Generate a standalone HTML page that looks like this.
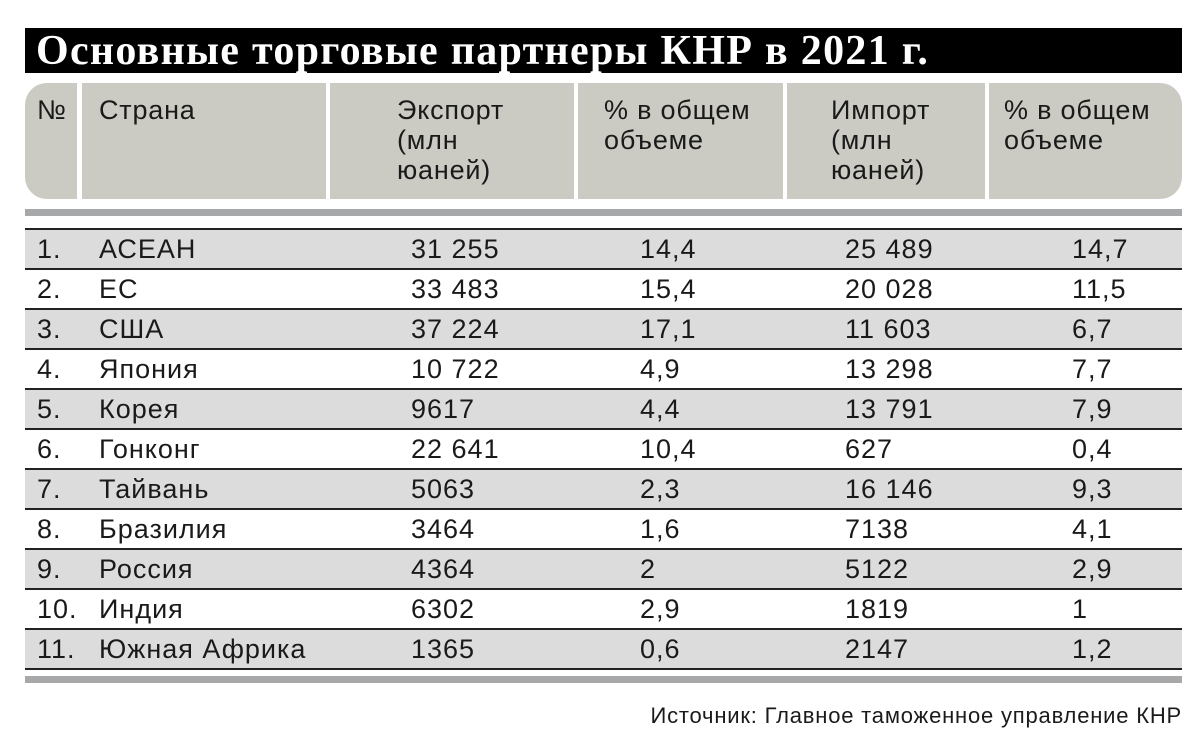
<!DOCTYPE html>
<html><head><meta charset="utf-8"><style>
body{margin:0;width:1200px;height:751px;background:#fff;position:relative;font-family:"Liberation Sans",sans-serif;color:#1a1a1a;overflow:hidden}
.t{position:absolute;left:25px;top:28px;width:1157px;height:45px;background:#000;color:#fff;font-family:"Liberation Serif",serif;font-weight:bold;font-size:42px;letter-spacing:1.3px;line-height:46px;padding-left:11px;box-sizing:border-box;white-space:nowrap}
.h{position:absolute;top:83px;height:116px;background:#cbcbc3;font-size:27px;letter-spacing:0.8px;line-height:30px;padding-top:12px;box-sizing:border-box}
.g{position:absolute;left:25px;width:1157px;height:7px;background:#a7a8aa}
.r{position:absolute;left:25px;width:1157px;height:40px;border-top:2px solid #222;box-sizing:border-box;font-size:27px;letter-spacing:1px;line-height:38px}
.r span{position:absolute;top:0}
.s{position:absolute;right:18px;top:703px;font-size:22px;letter-spacing:0.8px}
</style></head><body>
<div class="t">Основные торговые партнеры КНР в 2021 г.</div>
<div class="h" style="left:25px;width:52px;border-radius:22px 0 0 22px;padding-left:12px">№</div>
<div class="h" style="left:82px;width:244px;padding-left:17px">Страна</div>
<div class="h" style="left:330px;width:244px;padding-left:67px">Экспорт<br>(млн<br>юаней)</div>
<div class="h" style="left:578px;width:205px;padding-left:26px">% в общем<br>объеме</div>
<div class="h" style="left:787px;width:198px;padding-left:44px">Импорт<br>(млн<br>юаней)</div>
<div class="h" style="left:989px;width:193px;border-radius:0 22px 22px 0;padding-left:15px">% в общем<br>объеме</div>
<div class="g" style="top:209px"></div>
<div id="rows"></div>
<div class="r" style="top:668px;height:2px;border-top:2px solid #222"></div>
<div class="g" style="top:676px"></div>
<div class="s">Источник: Главное таможенное управление КНР</div>
<script>
var d=[["1.","АСЕАН","31 255","14,4","25 489","14,7"],["2.","ЕС","33 483","15,4","20 028","11,5"],["3.","США","37 224","17,1","11 603","6,7"],["4.","Япония","10 722","4,9","13 298","7,7"],["5.","Корея","9617","4,4","13 791","7,9"],["6.","Гонконг","22 641","10,4","627","0,4"],["7.","Тайвань","5063","2,3","16 146","9,3"],["8.","Бразилия","3464","1,6","7138","4,1"],["9.","Россия","4364","2","5122","2,9"],["10.","Индия","6302","2,9","1819","1"],["11.","Южная Африка","1365","0,6","2147","1,2"]];
var xs=[12,74,386,615,820,1047],h="";
d.forEach(function(r,i){h+='<div class="r" style="top:'+(228+i*40)+'px;background:'+(i%2?'#fff':'#dcdcdc')+'">';r.forEach(function(c,j){h+='<span style="left:'+xs[j]+'px">'+c+'</span>'});h+='</div>'});
document.getElementById('rows').innerHTML=h;
</script>
</body></html>
